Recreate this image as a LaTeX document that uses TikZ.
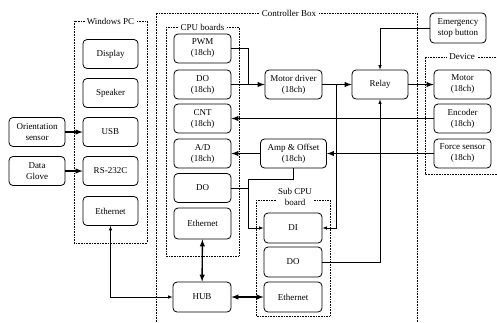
\documentclass[tikz,border=0pt]{standalone}
\usepackage{fontspec}
\setmainfont{Liberation Serif}
\usepackage{tikz}
\usetikzlibrary{arrows,calc,positioning}

\begin{document}
\begin{tikzpicture}[x=1pt, y=-1pt,
	blk/.style={draw, rounded corners=4pt, line width=0.8pt, fill=white, align=center, minimum width=56pt, minimum height=29pt, inner sep=1pt, font=\fontsize{9}{11}\selectfont},
	grp/.style={densely dotted, line width=0.6pt},
	grptitle/.style={fill=white, inner sep=2pt, align=center, font=\fontsize{9}{11}\selectfont},
	fat/.style={line width=1.4pt, ->, >=latex},
	sig/.style={line width=0.55pt, ->, >=latex}]
\useasboundingbox (0,0) rectangle (497,322);

% Group boxes
\draw[grp] (74,21) rectangle (147,243);
\node[grptitle] at (110.5,21) {Windows PC};
\draw[grp] (156,322) -- (156,13) -- (417,13) -- (417,322);
\node[grptitle] at (289,13) {Controller Box};
\draw[grp] (166,27) rectangle (239,256);
\node[grptitle] at (202.5,27) {CPU boards};
\draw[grp] (497,174) -- (425,174) -- (425,57) -- (497,57);
\node[grptitle] at (462,57) {Device};
\draw[grp] (256,200) rectangle (330,316);
\node[grptitle, inner sep=1pt] at (295,197) {Sub CPU\\board};

% Windows PC
\node[blk, minimum width=55pt] (disp) at (110.5,54) {Display};
\node[blk, minimum width=55pt] (spk) at (110.5,93) {Speaker};
\node[blk, minimum width=55pt] (usb) at (110.5,132) {USB};
\node[blk, minimum width=55pt] (rs) at (110.5,171) {RS-232C};
\node[blk, minimum width=55pt] (weth) at (110.5,211) {Ethernet};

% Inputs
\node[blk] (orient) at (37,132) {Orientation\\sensor};
\node[blk] (glove) at (37,171) {Data\\Glove};

% CPU boards
\node[blk, minimum width=57pt] (pwm) at (202.5,48.5) {PWM\\(18ch)};
\node[blk, minimum width=57pt] (doa) at (202.5,84.5) {DO\\(18ch)};
\node[blk, minimum width=57pt] (cnt) at (202.5,118.5) {CNT\\(18ch)};
\node[blk, minimum width=57pt] (ad) at (202.5,153.5) {A/D\\(18ch)};
\node[blk, minimum width=57pt] (dob) at (202.5,188) {DO};
\node[blk, minimum width=57pt, minimum height=31pt] (ceth) at (202.5,223.5) {Ethernet};
\node[blk, minimum width=58pt, minimum height=30pt] (hub) at (202,297) {HUB};

% Controller parts
\node[blk, minimum width=57pt] (mdrv) at (293.5,84.5) {Motor driver\\(18ch)};
\node[blk, minimum width=66pt] (amp) at (293.5,153.5) {Amp \& Offset\\(18ch)};
\node[blk] (relay) at (380,84.5) {Relay};
\node[blk, minimum height=30pt] (emerg) at (458,28) {Emergency\\stop button};

% Device
\node[blk, minimum width=57pt] (motor) at (462.5,84.5) {Motor\\(18ch)};
\node[blk, minimum width=57pt] (enc) at (462.5,118.5) {Encoder\\(18ch)};
\node[blk, minimum width=57pt] (force) at (462.5,153.5) {Force sensor\\(18ch)};

% Sub CPU board
\node[blk, minimum width=58pt, minimum height=30pt] (di) at (293,228) {DI};
\node[blk, minimum width=58pt, minimum height=30pt] (sdo) at (293,262) {DO};
\node[blk, minimum width=58pt, minimum height=30pt] (seth) at (293,297) {Ethernet};

% Junctions
\coordinate (j1) at (248,84.5);
\coordinate (j2) at (336,84.5);
\coordinate (j3) at (248,179);

% Thick signal lines
\draw[fat] (orient) -- (usb);
\draw[fat] (glove) -- (rs);
\draw[fat] (doa) -- (mdrv);
\draw[fat] (mdrv) -- (relay);
\draw[fat] (relay) -- (motor);
\draw[fat] (enc) -- (cnt);
\draw[fat] (force) -- (amp);
\draw[fat] (amp) -- (ad);
\draw[fat, <->] (ceth) -- (hub);
\draw[fat, <->] (hub) -- (seth);

% Thin signal lines
\draw[sig, <->] (weth.south) |- (hub.west);
\draw[sig, -] (pwm.east) -| (j1);
\draw[sig] (emerg.west) -| (relay.north);
\draw[sig] (j2) |- (di.east);
\draw[sig] (sdo.east) -| (relay.south);
\draw[sig] (amp.south) |- (j3) |- (di.west);
\draw[sig, -] (dob.east) -- (dob.east -| j3);

\end{tikzpicture}
\end{document}
